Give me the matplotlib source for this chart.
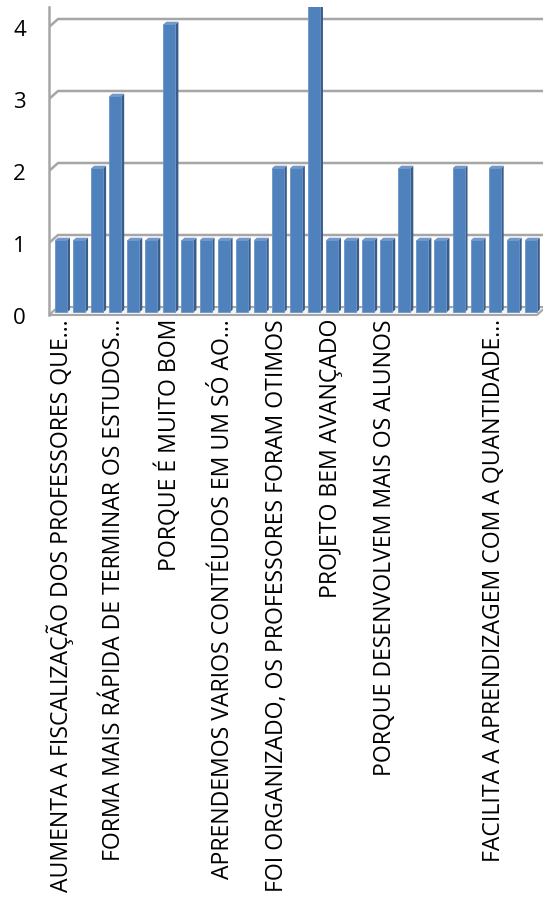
import matplotlib
matplotlib.use("Agg")
import matplotlib.pyplot as plt
from matplotlib.patches import Polygon, Rectangle
from matplotlib.transforms import offset_copy

# ---------------- data ----------------
values = [1, 1, 2, 3, 1, 1, 4, 1, 1, 1, 1, 1, 2, 2, 5, 1, 1, 1, 1, 2, 1, 1, 2, 1, 2, 1, 1]
tick_positions = [0, 3, 6, 9, 12, 15, 18, 21, 24]
tick_labels = [
    "AUMENTA A FISCALIZAÇÃO DOS PROFESSORES QUE…",
    "FORMA MAIS RÁPIDA DE TERMINAR OS ESTUDOS…",
    "PORQUE É MUITO BOM",
    "APRENDEMOS VARIOS CONTÉUDOS EM UM SÓ AO…",
    "FOI ORGANIZADO, OS PROFESSORES FORAM OTIMOS",
    "PROJETO BEM AVANÇADO",
    "PORQUE DESENVOLVEM MAIS OS ALUNOS",
    "",
    "FACILITA A APRENDIZAGEM COM A QUANTIDADE…",
]
y_ticks = [0, 1, 2, 3, 4]

# ---------------- style ----------------
W, H = 543, 919
FONT = ["Open Sans", "DejaVu Sans"]
front = "#4F81BD"
side = "#385D8A"
top = "#7397C9"
grid_c = "#A6A6A6"

fig = plt.figure(figsize=(W / 100, H / 100), dpi=100)
left_px, right_px, bottom_px, top_px = 49, 543, 315, 7
ax = fig.add_axes([left_px / W, 1 - bottom_px / H, (right_px - left_px) / W, (bottom_px - top_px) / H])

n = len(values)
cat_px = 18.07            # pixel width of one category on the front plane
unit_px = 72.0            # pixels per value unit
x0 = -0.5
x1 = x0 + (right_px - left_px) / cat_px
y1 = (bottom_px - top_px) / unit_px
ax.set_xlim(x0, x1)
ax.set_ylim(0, y1)

# depth (in data units)
depth_dx = 9 / cat_px
depth_dy = 8 / unit_px
x_front_end = x0 + n  # front edge of floor

# floor
floor = Polygon([(x0, 0), (x_front_end, 0), (x_front_end + depth_dx, depth_dy), (x0 + depth_dx, depth_dy)],
                closed=True, facecolor="#F4F4F4", edgecolor=grid_c, lw=1.5, zorder=1, clip_on=False)
ax.add_patch(floor)

# back wall gridlines
for v in y_ticks[1:]:
    ax.plot([x0, x0 + depth_dx, x1 + 1], [v, v + depth_dy, v + depth_dy],
            color=grid_c, lw=1.8, zorder=1, solid_joinstyle="miter")

# bars
bw = 12 / cat_px
f1, f2 = 0.33, 0.66
ox1, oy1 = depth_dx * f1, depth_dy * f1
ox2, oy2 = depth_dx * f2, depth_dy * f2
for i, v in enumerate(values):
    xl = i - bw / 2 + ox1
    xr = i + bw / 2 + ox1
    ax.add_patch(Polygon([(xr, oy1), (xr + ox2 - ox1, oy2), (xr + ox2 - ox1, v + oy2), (xr, v + oy1)],
                         closed=True, facecolor=side, edgecolor="none", zorder=3))
    ax.add_patch(Polygon([(xl, v + oy1), (xr, v + oy1), (xr + ox2 - ox1, v + oy2), (xl + ox2 - ox1, v + oy2)],
                         closed=True, facecolor=top, edgecolor="none", zorder=3))
    ax.add_patch(Rectangle((xl, oy1), bw, v, facecolor=front, edgecolor="#6C94C8", lw=0.6, zorder=4))

# axes styling
for s in ["top", "right", "bottom"]:
    ax.spines[s].set_visible(False)
ax.spines["left"].set_color(grid_c)
ax.spines["left"].set_linewidth(1.8)
ax.set_xticks([])
ax.set_yticks([])

# y labels
ylab_tr = offset_copy(ax.transData, fig=fig, x=-23, y=-3, units="dots")
for v in y_ticks:
    ax.text(x0, v, str(v), transform=ylab_tr, ha="right", va="center",
            fontsize=16, family=FONT, color="black", clip_on=False)

# category labels
xlab_tr = offset_copy(ax.transData, fig=fig, x=2, y=-4, units="dots")
for p, lab in zip(tick_positions, tick_labels):
    ax.text(p, 0, lab, transform=xlab_tr, rotation=90, ha="center", va="top",
            fontsize=16.6, family=FONT, color="black", clip_on=False)

fig.savefig("out.png", dpi=100)
